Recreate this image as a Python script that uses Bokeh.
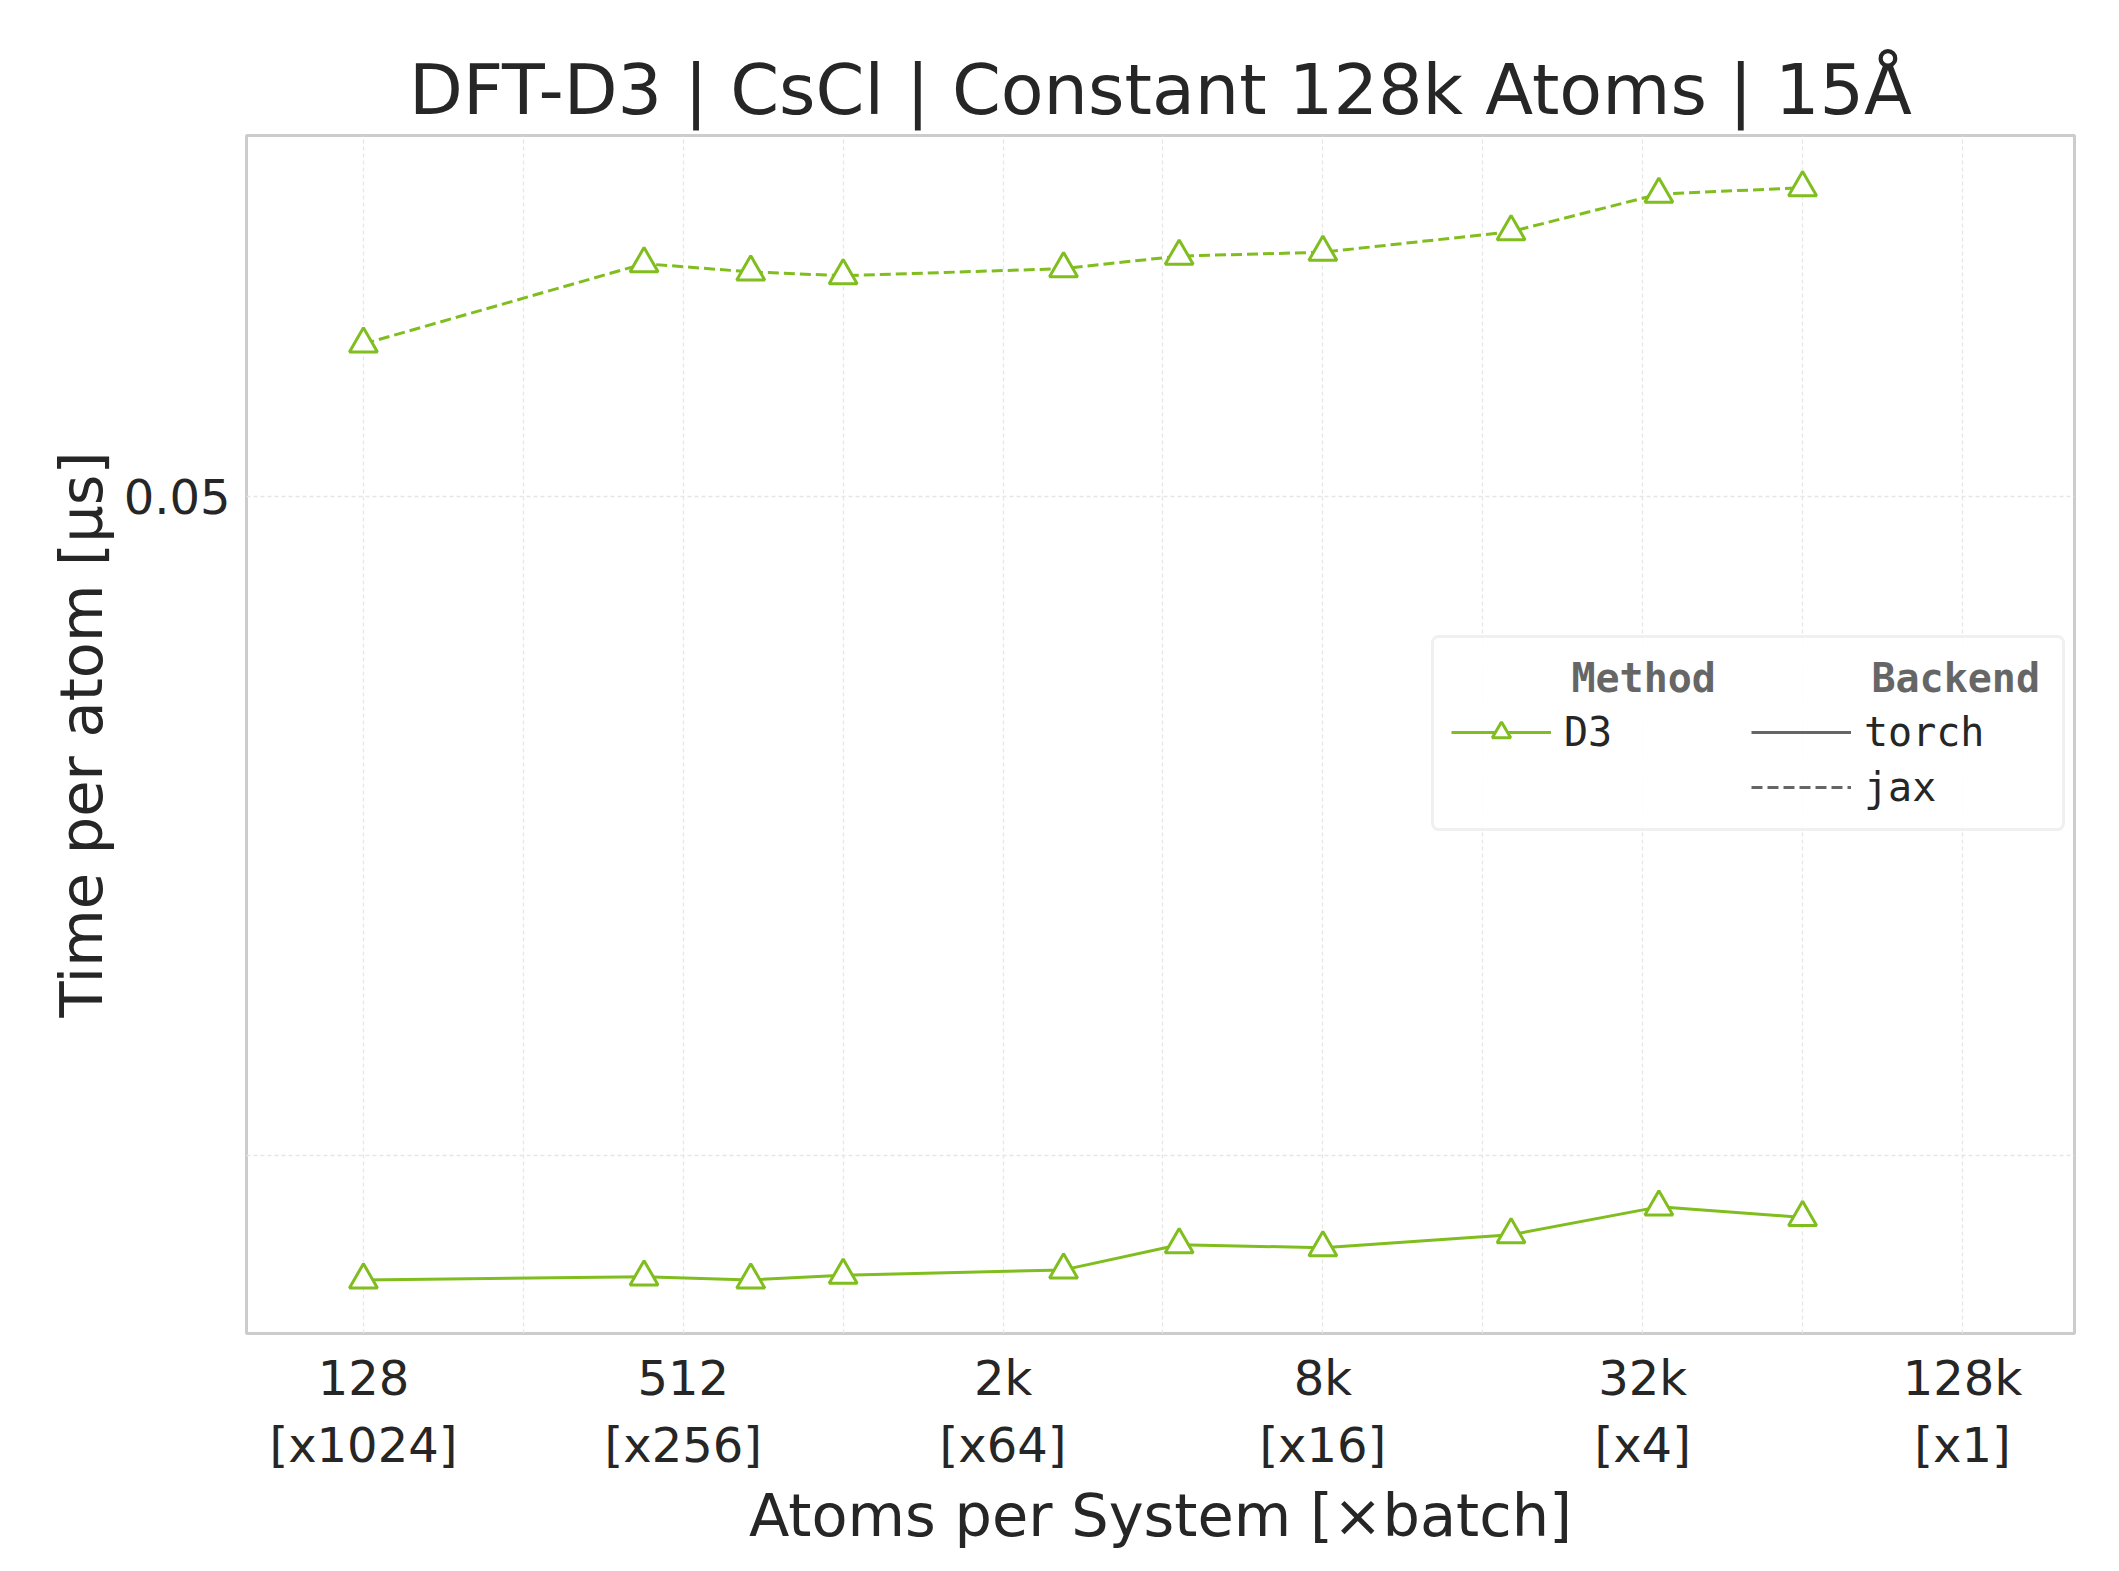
from bokeh.plotting import figure
from bokeh.models import FixedTicker, Legend, LegendItem, BoxAnnotation, Range1d
from bokeh.embed import file_html
from bokeh.resources import INLINE

atoms = [128, 432, 686, 1024, 2662, 4394, 8192, 18522, 35152, 65536]
jax = [0.05265, 0.0541, 0.05395, 0.05388, 0.05401, 0.05424, 0.05431, 0.05469, 0.05539, 0.05551]
torch = [0.03835, 0.03839, 0.03835, 0.03841, 0.03848, 0.03881, 0.03877, 0.03894, 0.03931, 0.03917]
xticks = [128, 512, 2048, 8192, 32768, 131072]
xlabels = ["128\n[x1024]", "512\n[x256]", "2k\n[x64]", "8k\n[x16]", "32k\n[x4]", "128k\n[x1]"]
xminor = [256, 1024, 4096, 16384, 65536]
yticks = [0.04, 0.05]
ylabels = ["", "0.05"]

G = "#80bd1e"
F = "DejaVu Sans"
p = figure(width=2100, height=1555, x_axis_type="log", y_axis_type="log",
           output_backend="svg", toolbar_location=None,
           x_range=Range1d(77.1, 213000), y_range=Range1d(0.03766, 0.0565),
           min_border_left=246, min_border_right=26, min_border_top=135, min_border_bottom=222)
p.title.text = "DFT-D3 | CsCl | Constant 128k Atoms | 15Å"
p.title.align = "center"
p.title.text_font = F
p.title.text_font_size = "70px"
p.title.text_font_style = "normal"
p.title.text_color = "#262626"
p.outline_line_color = "#cccccc"
p.outline_line_width = 3

p.xaxis.ticker = FixedTicker(ticks=xticks, minor_ticks=xminor)
p.xaxis.major_label_overrides = {t: l for t, l in zip(xticks, xlabels)}
p.yaxis.ticker = FixedTicker(ticks=yticks, minor_ticks=[])
p.yaxis.major_label_overrides = {t: l for t, l in zip(yticks, ylabels)}
for ax in (p.xaxis, p.yaxis):
    ax.axis_line_color = None
    ax.major_tick_line_color = None
    ax.minor_tick_line_color = None
    ax.major_label_text_font = F
    ax.major_label_text_font_size = "48px"
    ax.major_label_text_color = "#262626"
    ax.axis_label_text_font = F
    ax.axis_label_text_font_size = "59px"
    ax.axis_label_text_font_style = "normal"
    ax.axis_label_text_color = "#262626"
    ax.major_label_standoff = 10
p.xaxis.axis_label = "Atoms per System [×batch]"
p.yaxis.axis_label = "Time per atom [µs]"
for g in (p.xgrid, p.ygrid):
    g.grid_line_color = "#e6e6e6"
    g.grid_line_dash = "4 3"
    g.grid_line_width = 1.3
p.xgrid.minor_grid_line_color = "#e6e6e6"
p.xgrid.minor_grid_line_dash = "4 3"
p.xgrid.minor_grid_line_width = 1.3

p.line(atoms, jax, color=G, line_width=3, line_dash="11 5")
p.scatter(atoms, jax, marker="triangle", size=28, fill_color="white", line_color=G, line_width=3)
lt = p.line(atoms, torch, color=G, line_width=3)
mt = p.scatter(atoms, torch, marker="triangle", size=28, fill_color="white", line_color=G, line_width=3)

# off-range placeholder renderers used only for the legend samples
dummy_t = p.line([1, 2], [0.001, 0.001], color="#666666", line_width=3)
dummy_j = p.line([1, 2], [0.001, 0.001], color="#666666", line_width=3, line_dash="11 5")

box = BoxAnnotation(left=1186, right=1817, bottom=504, top=697,
                    left_units="screen", right_units="screen", bottom_units="screen", top_units="screen",
                    fill_color="white", fill_alpha=0.85, line_color="#cccccc", line_width=3,
                    border_radius=6)
p.add_layout(box)

NB = "\u00a0" * 5

def mk(items, title, loc):
    lg = Legend(items=items, location=loc, title=title, border_line_color=None, background_fill_alpha=0,
                label_text_font="DejaVu Sans Mono", label_text_font_size="40px",
                label_text_color="#262626", title_text_font="DejaVu Sans Mono",
                title_text_font_size="40px", title_text_font_style="bold",
                title_text_color="#666666", glyph_width=100, glyph_height=46,
                label_height=46, label_standoff=13, spacing=9, padding=0, margin=0,
                title_standoff=8)
    p.add_layout(lg, "center")
    return lg

mk([LegendItem(label="D3", renderers=[lt, mt])], NB + "Method", (1205, 578))
mk([LegendItem(label="torch", renderers=[dummy_t]), LegendItem(label="jax", renderers=[dummy_j])],
   NB + "Backend", (1505, 523))

open("out.html", "w").write(file_html(p, INLINE))
